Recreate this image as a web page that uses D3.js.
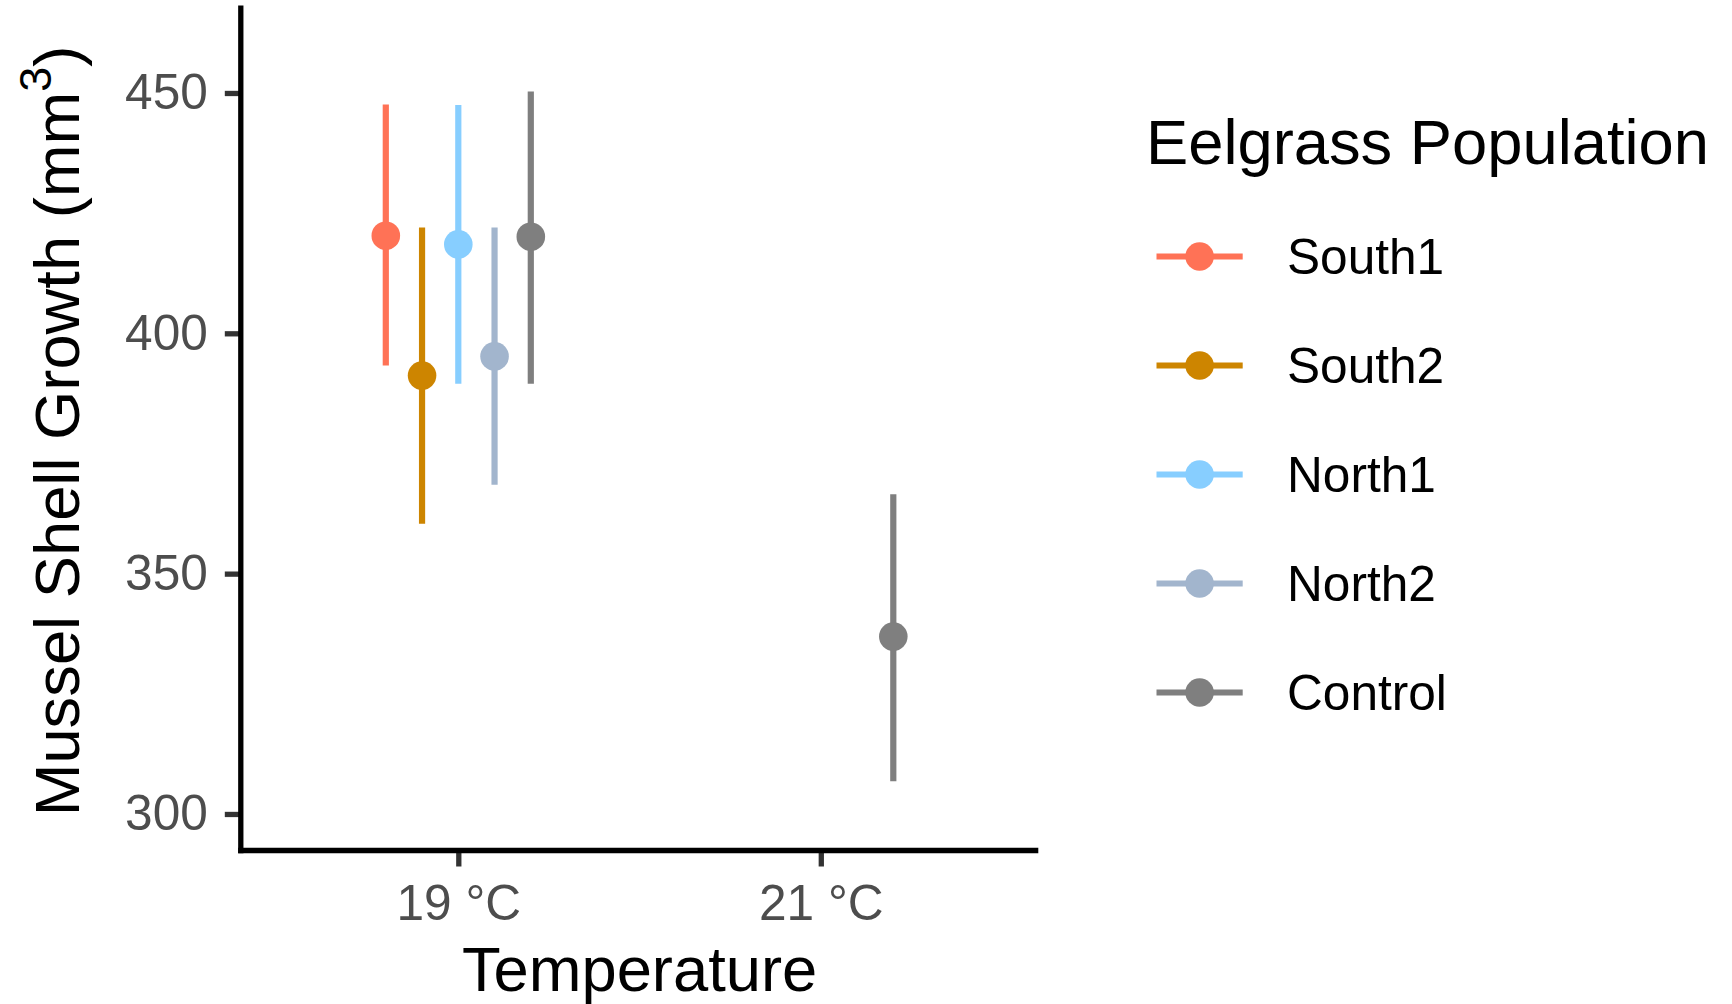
<!DOCTYPE html>
<html>
<head>
<meta charset="utf-8">
<script src="https://cdn.jsdelivr.net/npm/d3@7"></script>
<style>
  body { margin: 0; background: #fff; }
  text { font-family: "Liberation Sans", Arial, sans-serif; }
</style>
</head>
<body>
<div id="chart"></div>
<script>
// categories
const temps = ["19 °C", "21 °C"];
const groups = ["South1", "South2", "North1", "North2", "Control"];
const groupColors = ["#FF7256", "#CD8500", "#87CEFF", "#A2B5CD", "#7F7F7F"];

// one entry per point (temperature, group, mean and interval)
const rowTemp  = ["19 °C", "19 °C", "19 °C", "19 °C", "19 °C", "21 °C"];
const rowGroup = ["South1", "South2", "North1", "North2", "Control", "Control"];
const rowMean  = [420.3, 391.2, 418.5, 395.2, 420.1, 336.9];
const rowLow   = [393.3, 360.4, 389.5, 368.5, 389.5, 306.8];
const rowHigh  = [447.6, 422.0, 447.5, 422.0, 450.3, 366.5];

const yTicks = [300, 350, 400, 450];

function main() {
    const width = 1732, height = 1004;
    const left = 240.8, right = 1038.3, top = 5.5, bottom = 850.5;

    const svg = d3.select("#chart").append("svg")
        .attr("width", width)
        .attr("height", height)
        .style("background", "#fff");

    const x = d3.scalePoint().domain(temps).range([left, right]).padding(0.6);
    const y = d3.scaleLinear().domain([292.4, 468.2]).range([bottom, top]);
    const color = d3.scaleOrdinal().domain(groups).range(groupColors);
    const dodge = g => (groups.indexOf(g) - 2) * 0.1 * x.step();

    const rows = rowMean.map((m, i) => ({
        temp: rowTemp[i], group: rowGroup[i], mean: m, lo: rowLow[i], hi: rowHigh[i]
    }));

    // axes
    const yAxis = svg.append("g")
        .attr("transform", `translate(${left},0)`)
        .call(d3.axisLeft(y).tickValues(yTicks).tickSize(16).tickPadding(17).tickSizeOuter(0));
    const xAxis = svg.append("g")
        .attr("transform", `translate(0,${bottom})`)
        .call(d3.axisBottom(x).tickSize(16).tickPadding(18).tickSizeOuter(0));

    [yAxis, xAxis].forEach(ax => {
        ax.select(".domain").remove();
        ax.selectAll(".tick line").attr("stroke", "#333333").attr("stroke-width", 5.3);
        ax.selectAll(".tick text")
            .attr("fill", "#4D4D4D")
            .attr("font-size", 49.6)
            .attr("font-family", "Liberation Sans, Arial, sans-serif");
    });

    svg.append("line")
        .attr("x1", left).attr("x2", left).attr("y1", top).attr("y2", bottom + 2.65)
        .attr("stroke", "#000").attr("stroke-width", 5.3);
    svg.append("line")
        .attr("x1", left - 2.65).attr("x2", right).attr("y1", bottom).attr("y2", bottom)
        .attr("stroke", "#000").attr("stroke-width", 5.3);

    // error bars and points
    const marks = svg.append("g");
    marks.selectAll("line.err")
        .data(rows)
        .enter().append("line")
        .attr("class", "err")
        .attr("x1", d => x(d.temp) + dodge(d.group))
        .attr("x2", d => x(d.temp) + dodge(d.group))
        .attr("y1", d => y(d.lo))
        .attr("y2", d => y(d.hi))
        .attr("stroke", d => color(d.group))
        .attr("stroke-width", 6.2);

    marks.selectAll("circle")
        .data(rows)
        .enter().append("circle")
        .attr("cx", d => x(d.temp) + dodge(d.group))
        .attr("cy", d => y(d.mean))
        .attr("r", 14.3)
        .attr("fill", d => color(d.group));

    // axis titles
    svg.append("text")
        .attr("x", (left + right) / 2)
        .attr("y", 991)
        .attr("text-anchor", "middle")
        .attr("font-size", 63.3)
        .attr("fill", "#000")
        .text("Temperature");

    const yTitle = svg.append("text")
        .attr("transform", `translate(79,${(top + bottom) / 2 + 3}) rotate(-90)`)
        .attr("text-anchor", "middle")
        .attr("font-size", 63.3)
        .attr("fill", "#000");
    yTitle.append("tspan").text("Mussel Shell Growth (mm");
    yTitle.append("tspan").attr("font-size", 45).attr("dy", -28).text("3");
    yTitle.append("tspan").attr("dy", 28).text(")");

    // legend
    const legend = svg.append("g").attr("transform", "translate(1146,0)");
    legend.append("text")
        .attr("x", 0)
        .attr("y", 164)
        .attr("font-size", 63.3)
        .attr("fill", "#000")
        .text("Eelgrass Population");

    const rowY = d3.scalePoint().domain(groups).range([256.5, 692.5]);
    const key = legend.selectAll("g.key")
        .data(groups)
        .enter().append("g")
        .attr("class", "key")
        .attr("transform", d => `translate(0,${rowY(d)})`);
    key.append("line")
        .attr("x1", 10.5).attr("x2", 96.7)
        .attr("stroke", d => color(d))
        .attr("stroke-width", 6.2);
    key.append("circle")
        .attr("cx", 53.6)
        .attr("r", 14.3)
        .attr("fill", d => color(d));
    key.append("text")
        .attr("x", 141)
        .attr("dy", "0.36em")
        .attr("font-size", 49.6)
        .attr("fill", "#000")
        .text(d => d);
}
main();
</script>
</body>
</html>
